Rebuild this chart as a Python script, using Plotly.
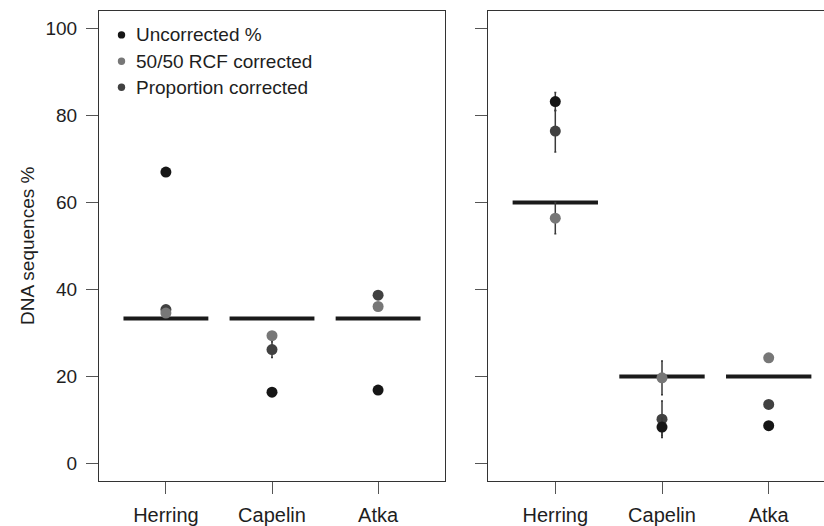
import plotly.graph_objects as go

# ---------------- data ----------------
categories = ["Herring", "Capelin", "Atka"]
y_ticks = [0, 20, 40, 60, 80, 100]

# left panel
left_expected = [33.33, 33.33, 33.33]
left_uncorrected = [67.0, 16.4, 16.9]
left_uncorrected_err = [0, 0, 0]
left_rcf = [34.6, 29.4, 36.1]
left_rcf_err = [0, 0, 0]
left_prop = [35.4, 26.2, 38.7]
left_prop_err = [0, 1.8, 0]

# right panel
right_expected = [60.0, 20.0, 20.0]
right_uncorrected = [83.2, 8.4, 8.7]
right_uncorrected_err = [2.1, 2.0, 0]
right_rcf = [56.4, 19.7, 24.3]
right_rcf_err = [3.6, 3.9, 0]
right_prop = [76.4, 10.2, 13.6]
right_prop_err = [4.8, 4.2, 0]

legend_labels = ["Uncorrected %", "50/50 RCF corrected", "Proportion corrected"]

# ---------------- styles ----------------
C_UNC = "#161616"
C_RCF = "#777777"
C_PROP = "#414141"
TXT = "#1e1e1e"
AX = "#333333"
FONT = "Liberation Sans, Arial, sans-serif"

W, H = 824, 526
ML, MR, MT, MB = 99, 0, 11, 43
PW = W - ML - MR
PH = H - MT - MB

xpos = [i + 1 for i in range(len(categories))]
HALF = 0.4

fig = go.Figure()


def mean_line(vals, xa, ya):
    xs, ys = [], []
    for x, v in zip(xpos, vals):
        xs += [x - HALF, x + HALF, None]
        ys += [v, v, None]
    fig.add_trace(go.Scatter(x=xs, y=ys, mode="lines", xaxis=xa, yaxis=ya,
                             line=dict(color="#1a1a1a", width=4),
                             showlegend=False, hoverinfo="skip"))


def points(vals, errs, color, xa, ya):
    fig.add_trace(go.Scatter(
        x=xpos, y=vals, mode="markers", xaxis=xa, yaxis=ya,
        marker=dict(color=color, size=11, line=dict(width=0)),
        error_y=dict(type="data", array=errs, visible=True,
                     color="#3a3a3a", thickness=1.5, width=1),
        showlegend=False))


for (exp, unc, unce, rcf, rcfe, prop, prope, xa, ya) in [
    (left_expected, left_uncorrected, left_uncorrected_err, left_rcf, left_rcf_err,
     left_prop, left_prop_err, "x", "y"),
    (right_expected, right_uncorrected, right_uncorrected_err, right_rcf, right_rcf_err,
     right_prop, right_prop_err, "x2", "y2"),
]:
    mean_line(exp, xa, ya)
    points(prop, prope, C_PROP, xa, ya)
    points(rcf, rcfe, C_RCF, xa, ya)
    points(unc, unce, C_UNC, xa, ya)

# ---------------- axes ----------------
left_w = 346
gap_px = 488 - 99
unit_px = 106.7
x_lo = 1 - 67.3 / unit_px
right_hi = x_lo + (W - 488) / unit_px

common_x = dict(
    tickmode="array", tickvals=xpos, ticktext=categories,
    showgrid=False, zeroline=False, showline=True, mirror=True,
    linecolor=AX, linewidth=1, ticks="outside", ticklen=12, tickwidth=1,
    tickcolor="#555555", tickfont=dict(family=FONT, size=20, color=TXT),
    ticklabelstandoff=4,
)
common_y = dict(
    range=[-4, 104], tickmode="array", tickvals=y_ticks,
    showgrid=False, zeroline=False, showline=True,
    linecolor=AX, linewidth=1, ticks="outside", ticklen=12, tickwidth=1,
    tickcolor="#555555", tickfont=dict(family=FONT, size=19, color=TXT),
    ticklabelstandoff=5,
)

fig.update_layout(
    width=W, height=H,
    margin=dict(l=ML, r=MR, t=MT, b=MB, pad=0),
    paper_bgcolor="white", plot_bgcolor="white",
    showlegend=False,
    xaxis=dict(domain=[0, left_w / PW], range=[x_lo, 3 + (1 - x_lo)], **common_x),
    yaxis=dict(anchor="x", mirror=True, showticklabels=True, **common_y),
    xaxis2=dict(domain=[gap_px / PW, 1], range=[x_lo, right_hi], anchor="y2", **common_x),
    yaxis2=dict(anchor="x2", mirror=False, showticklabels=False, **common_y),
)

# ---------------- legend (drawn inside left panel) ----------------
def px_to_paper_x(px):
    return (px - ML) / PW


def px_to_paper_y(py):
    return (MT + PH - py) / PH


leg_colors = [C_UNC, C_RCF, C_PROP]
leg_y = [35, 61.5, 87.5]
for lab, col, py in zip(legend_labels, leg_colors, leg_y):
    fig.add_shape(type="circle", xref="paper", yref="paper",
                  xsizemode="pixel", ysizemode="pixel",
                  xanchor=px_to_paper_x(121.5), yanchor=px_to_paper_y(py),
                  x0=-3.7, x1=3.7, y0=-3.7, y1=3.7,
                  fillcolor=col, line=dict(width=0))
    fig.add_annotation(x=px_to_paper_x(134), y=px_to_paper_y(py), xref="paper", yref="paper",
                       text=lab, showarrow=False, xanchor="left", yanchor="middle",
                       font=dict(family=FONT, size=19, color=TXT))

fig.add_annotation(x=px_to_paper_x(27), y=0.5, xref="paper", yref="paper",
                   text="DNA sequences %", textangle=-90, showarrow=False,
                   xanchor="center", yanchor="middle",
                   font=dict(family=FONT, size=19, color=TXT))

fig.write_html("out.html")
